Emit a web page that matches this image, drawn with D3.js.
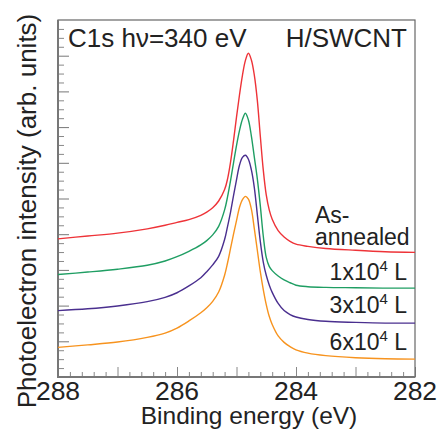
<!DOCTYPE html>
<html><head><meta charset="utf-8">
<script src="https://cdn.jsdelivr.net/npm/d3@7"></script>
<style>body{margin:0;background:#fff}svg{display:block}text{font-family:"Liberation Sans",Arial,sans-serif;fill:#222}</style>
</head><body><svg id="c" width="440" height="429"></svg>
<script>
const energies = [288,287.5,287,286.5,286.2,286.0,285.8,285.6,285.5,285.4,285.3,285.2,285.15,285.1,285.05,285.0,284.95,284.9,284.85,284.8,284.75,284.7,284.65,284.6,284.55,284.5,284.45,284.4,284.3,284.2,284.1,284.0,283.8,283.5,283.0,282.5,282];
const asAnnealed = [3.87,3.95,4.03,4.15,4.25,4.33,4.41,4.53,4.62,4.74,4.93,5.25,5.55,6.02,6.62,7.28,7.90,8.45,8.87,9.07,8.88,8.45,7.75,6.75,5.80,5.10,4.68,4.42,4.10,3.92,3.80,3.72,3.66,3.60,3.55,3.51,3.49];
const dose1e4 = [2.87,2.94,3.02,3.13,3.25,3.37,3.52,3.70,3.82,3.98,4.22,4.68,5.05,5.50,6.00,6.48,6.90,7.22,7.39,7.20,6.75,6.15,5.55,4.80,3.95,3.35,3.10,2.98,2.83,2.72,2.64,2.57,2.53,2.51,2.50,2.49,2.49];
const dose3e4 = [1.86,1.91,1.99,2.11,2.23,2.36,2.55,2.78,2.95,3.14,3.38,3.85,4.22,4.62,5.08,5.52,5.93,6.15,6.21,6.10,5.80,5.30,4.55,3.80,3.22,2.85,2.58,2.37,2.06,1.86,1.75,1.68,1.61,1.56,1.53,1.51,1.51];
const dose6e4 = [0.83,0.90,0.98,1.11,1.23,1.37,1.57,1.80,1.94,2.12,2.38,2.85,3.20,3.60,4.00,4.38,4.75,4.97,5.06,4.98,4.70,4.15,3.55,2.95,2.45,2.03,1.70,1.47,1.15,0.97,0.85,0.76,0.67,0.60,0.54,0.51,0.50];
const seriesNames = ["As-annealed","1x10^4 L","3x10^4 L","6x10^4 L"];
const seriesValues = [asAnnealed, dose1e4, dose3e4, dose6e4];
const xTickValues = [288,286,284,282];
const xTitle = "Binding energy (eV)";
const yTitle = "Photoelectron intensity (arb. units)";

const colors = ["#ee3338","#1f9e63","#4a2f8f","#f7931e"];
const svg = d3.select("#c");
const L=58,R=415,T=20,B=377;
const x = d3.scaleLinear().domain([288,282]).range([L,R]);
const y = d3.scaleLinear().domain([0,10]).range([B,T]);

// x ticks (inward)
const xMinor = d3.range(0,31).map(i=>288-i*0.2).filter(v=>Math.abs(v-Math.round(v))>1e-6);
svg.append("g").attr("transform",`translate(0,${B})`)
  .call(d3.axisBottom(x).tickValues(xMinor).tickSize(-5).tickFormat(""))
  .call(g=>{g.select(".domain").remove();g.selectAll("line").attr("stroke","#888");});
svg.append("g").attr("transform",`translate(0,${B})`)
  .call(d3.axisBottom(x).tickValues(d3.range(288,281,-1)).tickSize(-10).tickFormat(""))
  .call(g=>{g.select(".domain").remove();g.selectAll("line").attr("stroke","#888");});
// y ticks (inward)
const yMinor = d3.range(1,40).map(i=>i*0.25).filter(v=>v%1!==0);
svg.append("g").attr("transform",`translate(${L},0)`)
  .call(d3.axisLeft(y).tickValues(yMinor).tickSize(-6).tickFormat(""))
  .call(g=>{g.select(".domain").remove();g.selectAll("line").attr("stroke","#888");});
svg.append("g").attr("transform",`translate(${L},0)`)
  .call(d3.axisLeft(y).tickValues(d3.range(1,10)).tickSize(-11).tickFormat(""))
  .call(g=>{g.select(".domain").remove();g.selectAll("line").attr("stroke","#777");});

// frame
svg.append("rect").attr("x",L).attr("y",T).attr("width",R-L).attr("height",B-T)
  .attr("fill","none").attr("stroke","#666").attr("stroke-width",1.2);
svg.append("line").attr("x1",L).attr("x2",L).attr("y1",T).attr("y2",B+1).attr("stroke","#777").attr("stroke-width",2);
svg.append("line").attr("x1",L).attr("x2",R).attr("y1",B).attr("y2",B).attr("stroke","#777").attr("stroke-width",2);

// tick labels
svg.append("g").selectAll("text").data(xTickValues).join("text")
  .attr("x",d=>x(d)).attr("y",400).attr("text-anchor","middle")
  .attr("font-size",26.5).text(d=>d);

// curves
const line = d3.line().x(d=>x(d[0])).y(d=>y(d[1])).curve(d3.curveCatmullRom.alpha(0.5));
seriesValues.forEach((vals,i)=>{
  svg.append("path").datum(energies.map((e,j)=>[e,vals[j]]))
    .attr("d",line).attr("fill","none").attr("stroke",colors[i]).attr("stroke-width",1.4);
});

// titles
svg.append("text").attr("x",249).attr("y",424).attr("text-anchor","middle").attr("font-size",24.5).text(xTitle);
svg.append("text").attr("transform","translate(36,211) rotate(-90)").attr("text-anchor","middle").attr("font-size",26).text(yTitle);
svg.append("text").attr("x",68).attr("y",47).attr("font-size",26).text("C1s h\u03bd=340 eV");
svg.append("text").attr("x",407).attr("y",47).attr("text-anchor","end").attr("font-size",26).text("H/SWCNT");

// series labels
const t0 = svg.append("text").attr("font-size",23);
t0.append("tspan").attr("x",315).attr("y",223).text("As-");
t0.append("tspan").attr("x",315).attr("y",245).text("annealed");
const lblY = [280,313,350];
[1,2,3].forEach((k,i)=>{
  const parts = seriesNames[k].split("^");
  const t = svg.append("text").attr("x",407).attr("y",lblY[i]).attr("text-anchor","end").attr("font-size",23);
  t.append("tspan").text(parts[0]);
  t.append("tspan").attr("dy",-9).attr("font-size",15).text(parts[1].split(" ")[0]);
  t.append("tspan").attr("dy",9).text(" "+parts[1].split(" ")[1]);
});
</script></body></html>
